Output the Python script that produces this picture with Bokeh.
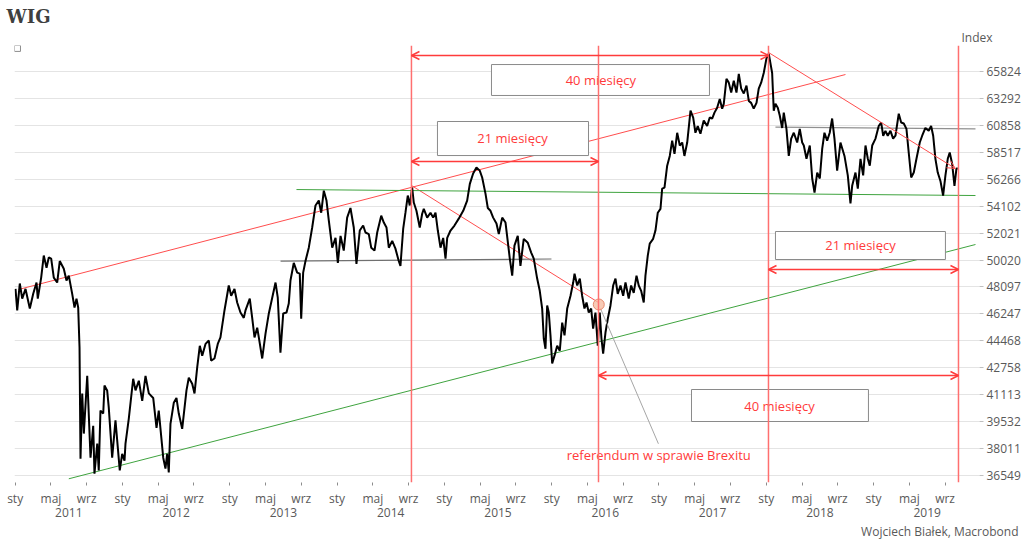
from bokeh.plotting import figure
from bokeh.models import (Range1d, FixedTicker, PrintfTickFormatter, LinearAxis, Span,
                          Arrow, OpenHead, Title, ColumnDataSource)
from bokeh.core.properties import value
from bokeh.embed import file_html
from bokeh.resources import INLINE

# ---------------- data: WIG index (months since Jan 2011, index level) ----------------
t_months = [
    0.04, 0.23, 0.52, 0.79, 1.16, 1.64, 2.02, 2.39, 2.53, 2.91, 3.20, 3.51, 3.76, 4.03, 4.32, 4.70,
    4.99, 5.44, 5.74, 6.00, 6.38, 6.64, 6.86, 7.05, 7.20, 7.31, 7.50, 7.68, 8.06, 8.43, 8.73, 8.87,
    9.18, 9.35, 9.54, 9.85, 9.99, 10.29, 10.47, 10.85, 11.22, 11.70, 11.97, 12.23, 12.34, 12.71,
    13.20, 13.46, 13.83, 14.21, 14.58, 14.95, 15.44, 15.81, 16.06, 16.56, 16.81, 17.00, 17.18, 17.37,
    17.74, 18.04, 18.30, 18.68, 19.16, 19.42, 19.80, 20.06, 20.36, 20.65, 20.92, 21.29, 21.66, 21.92,
    22.29, 22.66, 22.96, 23.41, 23.89, 24.16, 24.53, 24.83, 25.20, 25.57, 25.76, 26.24, 26.51, 26.77,
    27.07, 27.25, 27.63, 28.00, 28.37, 28.75, 29.12, 29.37, 29.67, 29.98, 30.35, 30.60, 30.79, 31.16,
    31.54, 31.83, 31.99, 32.21, 32.47, 32.84, 33.22, 33.59, 33.96, 34.23, 34.52, 34.82, 35.08, 35.46,
    35.83, 36.09, 36.39, 36.75, 37.13, 37.50, 37.87, 38.17, 38.54, 38.92, 39.18, 39.55, 39.82, 40.19,
    40.49, 40.94, 41.23, 41.53, 41.79, 42.17, 42.53, 42.90, 43.09, 43.40, 43.65, 43.91, 44.13, 44.40,
    44.58, 44.88, 45.25, 45.52, 45.70, 46.08, 46.45, 46.75, 47.01, 47.27, 47.57, 47.87, 48.13, 48.32,
    48.69, 49.13, 49.61, 50.11, 50.55, 50.85, 51.22, 51.59, 51.96, 52.23, 52.60, 52.86, 53.16, 53.46,
    53.83, 54.09, 54.47, 54.84, 55.32, 55.59, 55.84, 56.21, 56.51, 56.88, 57.33, 57.71, 58.00, 58.38,
    58.67, 58.94, 59.12, 59.31, 59.50, 59.68, 59.87, 60.06, 60.32, 60.62, 60.91, 61.18, 61.44, 61.74,
    62.11, 62.41, 62.56, 62.86, 63.15, 63.41, 63.67, 63.90, 64.15, 64.42, 64.64, 64.90, 65.16, 65.38,
    65.57, 65.76, 66.02, 66.28, 66.58, 66.88, 67.14, 67.39, 67.70, 68.00, 68.26, 68.62, 68.89, 69.18,
    69.49, 69.74, 70.01, 70.30, 70.49, 70.75, 70.97, 71.35, 71.61, 71.87, 72.17, 72.36, 72.62, 72.92,
    73.21, 73.48, 73.74, 74.04, 74.33, 74.60, 74.85, 75.16, 75.53, 75.83, 76.08, 76.34, 76.64, 77.01,
    77.39, 77.68, 77.95, 78.21, 78.51, 78.80, 79.07, 79.25, 79.55, 79.81, 80.08, 80.37, 80.67, 80.93,
    81.20, 81.49, 81.79, 82.05, 82.31, 82.60, 82.91, 83.16, 83.43, 83.72, 84.02, 84.28, 84.66, 84.84,
    85.03, 85.29, 85.51, 85.78, 85.96, 86.26, 86.52, 86.79, 87.08, 87.46, 87.75, 88.02, 88.20, 88.50,
    88.87, 89.14, 89.40, 89.70, 89.99, 90.26, 90.51, 90.81, 91.10, 91.37, 91.63, 91.93, 92.30, 92.75,
    93.12, 93.42, 93.61, 93.98, 94.24, 94.54, 94.84, 95.10, 95.36, 95.58, 95.85, 96.22, 96.58, 96.85,
    97.08, 97.33, 97.59, 97.89, 98.19, 98.45, 98.82, 99.09, 99.38, 99.68, 99.94, 100.21, 100.50,
    100.80, 101.17, 101.44, 101.80, 102.17, 102.44, 102.67, 102.92, 103.18, 103.48, 103.78, 104.04,
    104.30, 104.52, 104.79, 105.05, 105.27, 105.42,
]
wig = [
    47960, 46480, 48340, 47290, 47960, 46610, 47620, 48410, 47290, 48760, 50350, 49460, 50210, 50130,
    48760, 48410, 49950, 49390, 48550, 48900, 47620, 46680, 47290, 46680, 44020, 37450, 41190, 38850,
    42260, 37510, 39290, 36650, 38290, 36820, 40170, 40000, 41670, 41370, 40350, 37510, 39600, 36820,
    37720, 37350, 38290, 39710, 42080, 41370, 41960, 40750, 42260, 41190, 40920, 39180, 40170, 37510,
    36920, 37720, 36710, 39400, 40630, 40920, 40000, 39120, 41370, 42140, 41780, 41190, 42780, 44150,
    43520, 44270, 44490, 43210, 43340, 44270, 44690, 46480, 48200, 47490, 47960, 47020, 46340, 45980,
    46480, 47290, 45980, 44690, 45330, 44690, 43340, 44940, 46280, 47350, 48410, 47350, 43710, 46280,
    46340, 46950, 48550, 49810, 49110, 49040, 45920, 49110, 49950, 50930, 52450, 54160, 54550, 53590,
    55340, 54550, 52980, 50930, 51660, 49810, 51810, 50720, 53210, 53960, 52450, 49740, 52220, 52600,
    52070, 51950, 50930, 50720, 52070, 53360, 52830, 52450, 50930, 51440, 50860, 49950, 49600, 52370,
    53590, 54950, 54160, 55580, 54390, 53740, 52450, 53510, 53890, 53210, 53590, 53210, 53590, 52220,
    50930, 51660, 50130, 51660, 52220, 52600, 53130, 53740, 54550, 55890, 56740, 57230, 56980, 56410,
    55100, 53960, 53740, 53210, 52750, 51950, 53210, 52830, 50130, 48900, 51080, 51810, 49600, 51590,
    51300, 50570, 50130, 48690, 47830, 46610, 44620, 43960, 46820, 46340, 44820, 43030, 43520, 44150,
    43830, 45660, 44820, 46610, 47490, 48410, 49040, 48200, 48690, 47490, 46610, 47020, 46340, 46610,
    45270, 46340, 44150, 46340, 44620, 43650, 45010, 45920, 46820, 48200, 48690, 47620, 48200, 47490,
    48410, 47290, 48200, 47690, 48900, 48200, 47830, 47020, 48900, 50350, 51230, 51590, 52220, 53590,
    53890, 55500, 55580, 57390, 58210, 59530, 58380, 60210, 59100, 59360, 58210, 59360, 62180, 61560,
    60210, 60800, 60120, 61290, 60800, 61560, 61470, 62000, 62450, 63240, 62360, 62800, 65130, 64770,
    63840, 64950, 63840, 65600, 64210, 63750, 64490, 63070, 62890, 62360, 62890, 64210, 64770, 65690,
    67080, 67560, 65690, 62180, 62800, 62450, 61740, 60630, 62000, 60550, 58210, 59700, 60210, 59360,
    60550, 59360, 59100, 57970, 59100, 56330, 55180, 56820, 56330, 58840, 60210, 59530, 60210, 61470,
    59700, 56980, 59360, 58210, 56580, 54320, 55730, 56820, 55500, 57970, 56580, 59100, 57970, 57390,
    59100, 59700, 60800, 61120, 59950, 60380, 59950, 60380, 59700, 59950, 61910, 61120, 61030, 60550,
    58460, 56410, 56820, 57970, 59360, 59950, 60630, 60380, 60800, 59950, 57970, 56820, 56130, 54950,
    56580, 57970, 58500, 57560, 55730, 57150, 57150,
]

y_ticks = [36549, 38011, 39532, 41113, 42758, 44468, 46247, 48097, 50020, 52021,
           54102, 56266, 58517, 60858, 63292, 65824]
month_ticks = list(range(0, 108, 4))
month_names = ["sty", "maj", "wrz"]
year_ticks = [6 + 12 * k for k in range(9)]
year_labels = ["2011", "2012", "2013", "2014", "2015", "2016", "2017", "2018", "2019"]

# event markers (months since Jan 2011)
ev_peak2014 = 44.32
ev_brexit = 65.24
ev_peak2018 = 84.25
ev_end = 105.50

RED = "#ff3b3b"
RED_V = "#ff6f6f"
GREEN = "#3fa33f"
GRAY_TXT = "#595959"
FONT = "Open Sans"

p = figure(width=1024, height=550,
           x_range=Range1d(-0.073, 107.85), y_range=Range1d(36178, 68370),
           y_axis_type="log", y_axis_location="right",
           output_backend="svg", toolbar_location=None,
           min_border_left=14, min_border_right=45, min_border_top=45, min_border_bottom=68)
p.outline_line_color = None
p.background_fill_color = "white"

# y axis
y_ticker = FixedTicker(ticks=y_ticks)
ya = p.yaxis[0]
ya.ticker = y_ticker
ya.formatter = PrintfTickFormatter(format="%d")
ya.axis_line_color = None
ya.major_tick_line_color = "#bfbfbf"
ya.major_tick_in = 0
ya.major_tick_out = 4
ya.minor_tick_line_color = None
ya.major_label_standoff = 3
ya.major_label_text_font = FONT
ya.major_label_text_font_size = "12px"
ya.major_label_text_color = GRAY_TXT
p.ygrid.ticker = y_ticker
p.ygrid.grid_line_color = "#e4e4e4"
p.xgrid.visible = False

# x axis: months
xa = p.xaxis[0]
xa.ticker = FixedTicker(ticks=month_ticks)
xa.major_label_overrides = {t: month_names[(t // 4) % 3] for t in month_ticks}
xa.axis_line_color = None
xa.major_tick_line_color = "#8c8c8c"
xa.major_tick_in = 0
xa.major_tick_out = 3
xa.minor_tick_line_color = None
xa.major_label_standoff = 4
xa.major_label_text_font = FONT
xa.major_label_text_font_size = "12px"
xa.major_label_text_color = GRAY_TXT

# x axis: years
yr = LinearAxis(ticker=FixedTicker(ticks=year_ticks),
                major_label_overrides={t: lab for t, lab in zip(year_ticks, year_labels)})
yr.axis_line_color = None
yr.major_tick_line_color = None
yr.major_tick_in = 0
yr.major_tick_out = 0
yr.minor_tick_line_color = None
yr.major_label_standoff = -2
yr.major_label_text_font = FONT
yr.major_label_text_font_size = "12px"
yr.major_label_text_color = GRAY_TXT
p.add_layout(yr, "below")

# credit line (outermost below)
p.add_layout(Title(text="Wojciech Białek, Macrobond", align="right", offset=-39,
                   text_font=FONT, text_font_size="12px", text_font_style="normal",
                   text_color=GRAY_TXT, standoff=2), "below")

# titles above: "Index" nearest the frame, "WIG" outermost
p.add_layout(Title(text="Index", align="right", offset=-13,
                   text_font=FONT, text_font_size="12px", text_font_style="normal",
                   text_color=GRAY_TXT, standoff=0), "above")
p.add_layout(Title(text="WIG", align="left", offset=-8,
                   text_font="DejaVu Serif", text_font_size="18px", text_font_style="bold",
                   text_color="#3f3f3f", standoff=0), "above")

# vertical event lines
for loc in [ev_peak2014, ev_brexit, ev_peak2018, ev_end]:
    p.add_layout(Span(location=loc, dimension="height", line_color=RED_V, line_width=1.5))

# trend / support lines
p.line([0.375, 92.86], [47920, 65540], line_color="#ff4d4d", line_width=1)
p.line([ev_peak2014, ev_brexit], [55760, 47020], line_color="#ff4d4d", line_width=1)
p.line([31.46, 107.4], [55430, 54950], line_color=GREEN, line_width=1)
p.line([6.0, 107.4], [36374, 51166], line_color=GREEN, line_width=1)
p.line([29.68, 59.98], [49937, 50098], line_color="#707070", line_width=1.2)
p.line([85.03, 107.4], [60700, 60555], line_color="#909090", line_width=1.2)

# series
src = ColumnDataSource(data=dict(t=t_months, v=wig))
p.line("t", "v", source=src, line_color="black", line_width=2)

# down-trend arrow from 2018 peak
p.add_layout(Arrow(end=OpenHead(size=8, line_color="#ff4d4d", line_width=1),
                   x_start=ev_peak2018, y_start=67680, x_end=105.15, y_end=57155,
                   line_color="#ff4d4d", line_width=1))

# span arrows
def span_arrow(x0, x1, yv):
    p.add_layout(Arrow(start=OpenHead(size=8, line_color=RED, line_width=1.5),
                       end=OpenHead(size=8, line_color=RED, line_width=1.5),
                       x_start=x0, y_start=yv, x_end=x1, y_end=yv,
                       line_color=RED, line_width=1.5))

span_arrow(ev_peak2014, ev_peak2018, 67380)
span_arrow(ev_peak2014, ev_brexit, 57740)
span_arrow(ev_peak2018, ev_end, 49340)
span_arrow(ev_brexit, ev_end, 42280)

# label boxes
box_left = [53.27, 47.23, 85.03, 75.64]
box_right = [77.65, 64.12, 104.04, 95.43]
box_top = [66500, 61205, 52144, 41425]
box_bottom = [63570, 58245, 50061, 39539]
box_text = ["40 miesięcy", "21 miesięcy", "21 miesięcy", "40 miesięcy"]
box_tx = [65.5, 55.62, 94.54, 85.48]
box_ty = [65020, 59710, 51095, 40470]
p.quad(left=box_left, right=box_right, top=box_top, bottom=box_bottom,
       fill_color="white", line_color="#8a8a8a", line_width=1)
p.text(x=box_tx, y=box_ty, text=box_text, text_align="center", text_baseline="middle",
       text_color=RED, text_font=value(FONT), text_font_size="13px")

# Brexit referendum marker
p.line([65.46, 71.94], [46615, 38277], line_color="#a6a6a6", line_width=1)
p.scatter([65.27], [46886], size=11, fill_color="#f6b89c", fill_alpha=0.75,
          line_color="#e88a6e", line_width=1)
p.text(x=[71.98], y=[37630], text=["referendum w sprawie Brexitu"], text_align="center",
       text_baseline="middle", text_color=RED, text_font=value(FONT), text_font_size="13px")

# empty legend key square (top-left corner of the frame)
p.scatter([0.26], [68080], marker="square", size=6, fill_color="white",
          line_color="#8c8c8c", line_width=1)

open("out.html", "w").write(file_html(p, INLINE))
